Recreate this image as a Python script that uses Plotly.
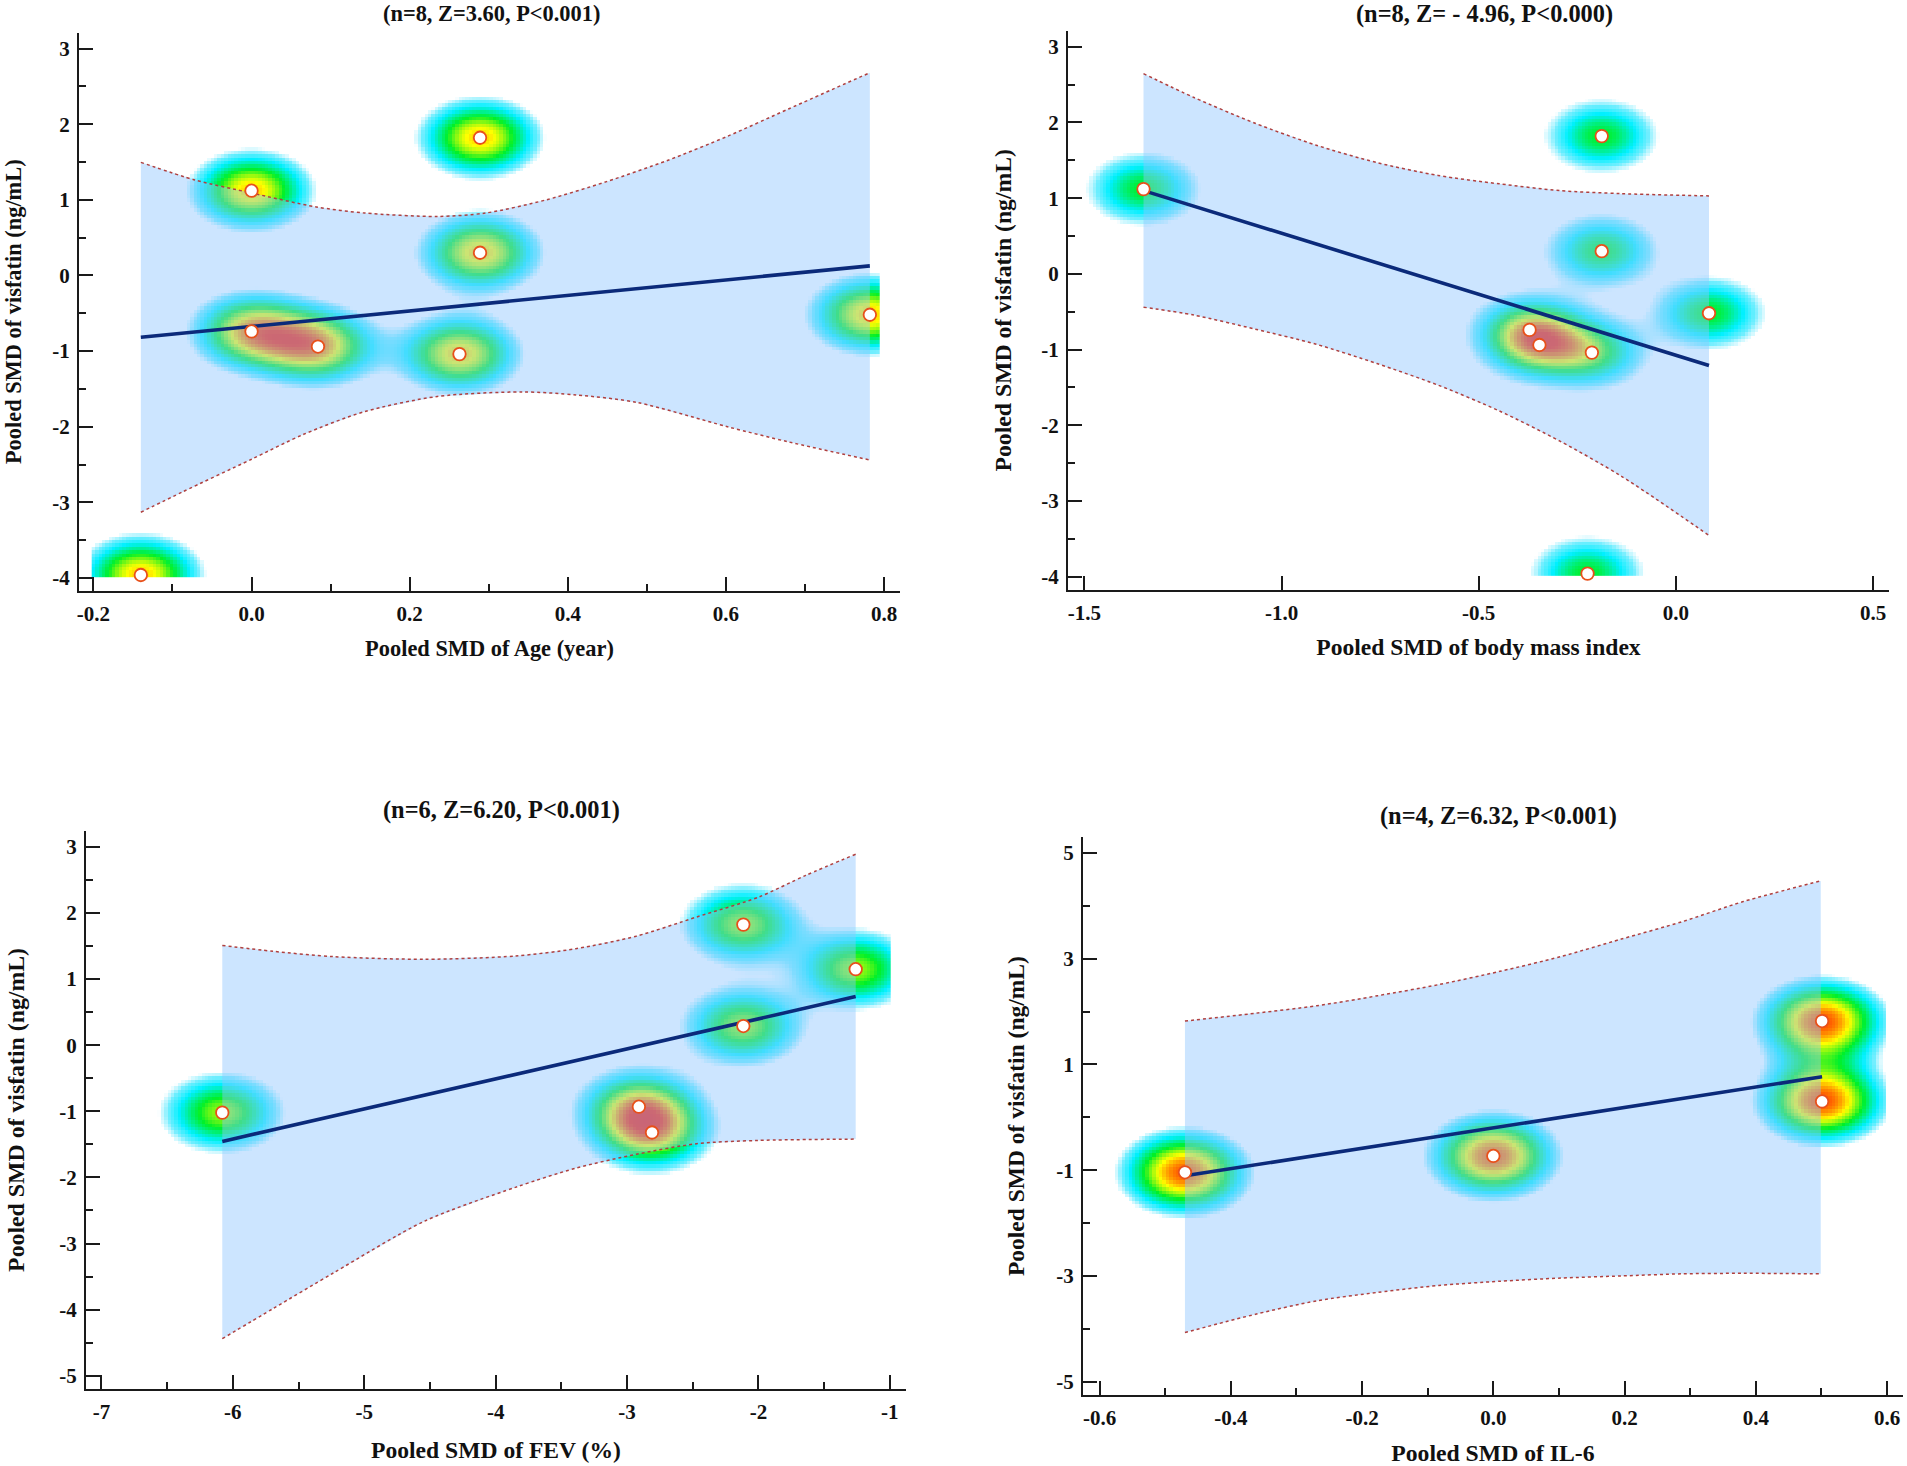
import numpy as np
import plotly.graph_objects as go

# ---------- data ----------
age_x = [-0.14, 0.0, 0.289, 0.289, 0.0, 0.084, 0.263, 0.782]
age_y = [-3.96, 1.12, 1.82, 0.30, -0.74, -0.94, -1.04, -0.52]
age_fit_x = [-0.14, 0.782]
age_fit_y = [-0.818, 0.127]
age_up_x = [-0.14, -0.071, 0.0, 0.082, 0.143, 0.235, 0.296, 0.373, 0.449, 0.526, 0.602, 0.679, 0.782]
age_up_y = [1.495, 1.26, 1.09, 0.905, 0.825, 0.78, 0.825, 1.0, 1.24, 1.52, 1.84, 2.2, 2.68]
age_lo_x = [-0.14, -0.087, 0.0, 0.066, 0.143, 0.235, 0.342, 0.411, 0.488, 0.602, 0.679, 0.782]
age_lo_y = [-3.13, -2.86, -2.43, -2.10, -1.80, -1.60, -1.54, -1.58, -1.68, -2.0, -2.2, -2.44]

bmi_x = [-1.35, -0.188, -0.188, 0.084, -0.371, -0.346, -0.213, -0.224]
bmi_y = [1.12, 1.82, 0.30, -0.52, -0.74, -0.94, -1.04, -3.96]
bmi_fit_x = [-1.35, 0.084]
bmi_fit_y = [1.10, -1.21]
bmi_up_x = [-1.35, -1.222, -1.067, -0.912, -0.758, -0.603, -0.448, -0.294, -0.139, 0.084]
bmi_up_y = [2.645, 2.33, 1.99, 1.70, 1.47, 1.30, 1.19, 1.10, 1.06, 1.03]
bmi_lo_x = [-1.35, -1.222, -1.067, -0.912, -0.758, -0.603, -0.448, -0.294, -0.139, 0.084]
bmi_lo_y = [-0.44, -0.545, -0.73, -0.93, -1.185, -1.47, -1.81, -2.21, -2.67, -3.455]

fev_x = [-6.08, -2.91, -2.81, -2.115, -2.115, -1.26]
fev_y = [-1.02, -0.93, -1.32, 0.29, 1.825, 1.15]
fev_fit_x = [-6.08, -1.26]
fev_fit_y = [-1.455, 0.736]
fev_up_x = [-6.08, -5.69, -5.23, -4.54, -3.85, -3.39, -2.93, -2.47, -2.0, -1.64, -1.26]
fev_up_y = [1.51, 1.42, 1.34, 1.30, 1.35, 1.46, 1.65, 1.94, 2.24, 2.57, 2.89]
fev_lo_x = [-6.08, -5.69, -5.23, -4.54, -3.85, -3.39, -2.93, -2.47, -2.0, -1.26]
fev_lo_y = [-4.44, -3.98, -3.44, -2.66, -2.15, -1.86, -1.65, -1.49, -1.44, -1.42]

il6_x = [-0.47, 0.0, 0.501, 0.501]
il6_y = [-1.04, -0.73, 1.82, 0.30]
il6_fit_x = [-0.47, 0.501]
il6_fit_y = [-1.106, 0.767]
il6_up_x = [-0.47, -0.361, -0.269, -0.176, -0.083, 0.01, 0.103, 0.195, 0.288, 0.381, 0.499]
il6_up_y = [1.82, 1.97, 2.11, 2.30, 2.51, 2.76, 3.04, 3.37, 3.70, 4.08, 4.47]
il6_lo_x = [-0.47, -0.361, -0.269, -0.176, -0.083, 0.01, 0.103, 0.195, 0.288, 0.381, 0.499]
il6_lo_y = [-4.07, -3.72, -3.47, -3.31, -3.18, -3.10, -3.04, -3.0, -2.96, -2.95, -2.96]

age_xticks = [-0.2, 0.0, 0.2, 0.4, 0.6, 0.8]
age_xlabels = ["-0.2", "0.0", "0.2", "0.4", "0.6", "0.8"]
bmi_xticks = [-1.5, -1.0, -0.5, 0.0, 0.5]
bmi_xlabels = ["-1.5", "-1.0", "-0.5", "0.0", "0.5"]
fev_xticks = [-7, -6, -5, -4, -3, -2, -1]
fev_xlabels = ["-7", "-6", "-5", "-4", "-3", "-2", "-1"]
il6_xticks = [-0.6, -0.4, -0.2, 0.0, 0.2, 0.4, 0.6]
il6_xlabels = ["-0.6", "-0.4", "-0.2", "0.0", "0.2", "0.4", "0.6"]
y7_ticks = [-4, -3, -2, -1, 0, 1, 2, 3]
y7_labels = ["-4", "-3", "-2", "-1", "0", "1", "2", "3"]
y8_ticks = [-5, -4, -3, -2, -1, 0, 1, 2, 3]
y8_labels = ["-5", "-4", "-3", "-2", "-1", "0", "1", "2", "3"]
y5_ticks = [-5, -3, -1, 1, 3, 5]
y5_labels = ["-5", "-3", "-1", "1", "3", "5"]

# ---------- layout ----------
W, H = 1907, 1466
FONT = "Liberation Serif"
panels = [
    dict(px=age_x, py=age_y, fx=age_fit_x, fy=age_fit_y, ux=age_up_x, uy=age_up_y, lx=age_lo_x, ly=age_lo_y,
         xt=age_xticks, xl=age_xlabels, yt=y7_ticks, yl=y7_labels, xminor=0.1, yminor=0.5,
         xtitle="Pooled SMD of Age (year)", title="(n=8, Z=3.60, P<0.001)", tc=(490, 14),
         box=(77, 899, 33, 593), xcal=(91.5, 883), ycal=(48.7, 580.4),
         peak=0.70, rad=(66, 43), clipx=(-0.2, 0.793), clipy=(-3.97, 3.0),
         sz=(22.4, 22.4, 22.4), xso=16, yso=24),
    dict(px=bmi_x, py=bmi_y, fx=bmi_fit_x, fy=bmi_fit_y, ux=bmi_up_x, uy=bmi_up_y, lx=bmi_lo_x, ly=bmi_lo_y,
         xt=bmi_xticks, xl=bmi_xlabels, yt=y7_ticks, yl=y7_labels, xminor=None, yminor=0.5,
         xtitle="Pooled SMD of body mass index", title="(n=8, Z= - 4.96, P<0.000)", tc=(1484, 14),
         box=(1067, 1889, 31, 592), xcal=(1083.5, 1873), ycal=(47, 579),
         peak=0.42, rad=(58, 38), clipx=(-1.5, 0.5), clipy=(-3.97, 3.0),
         sz=(24.4, 23.6, 23.7), xso=15, yso=23),
    dict(px=fev_x, py=fev_y, fx=fev_fit_x, fy=fev_fit_y, ux=fev_up_x, uy=fev_up_y, lx=fev_lo_x, ly=fev_lo_y,
         xt=fev_xticks, xl=fev_xlabels, yt=y8_ticks, yl=y8_labels, xminor=0.5, yminor=0.5,
         xtitle="Pooled SMD of FEV (%)", title="(n=6, Z=6.20, P<0.001)", tc=(500, 813.4),
         box=(84, 905, 834.4, 1394.6), xcal=(99.5, 888.8), ycal=(850.4, 1381.4),
         peak=0.55, rad=(64, 42), clipx=(-7, -1.0), clipy=(-5, 3.0),
         sz=(24.4, 23.6, 23.8), xso=18, yso=28),
    dict(px=il6_x, py=il6_y, fx=il6_fit_x, fy=il6_fit_y, ux=il6_up_x, uy=il6_up_y, lx=il6_lo_x, ly=il6_lo_y,
         xt=il6_xticks, xl=il6_xlabels, yt=y5_ticks, yl=y5_labels, xminor=0.1, yminor=1,
         xtitle="Pooled SMD of IL-6", title="(n=4, Z=6.32, P<0.001)", tc=(1498, 819.4),
         box=(1082, 1903, 840.4, 1401), xcal=(1098.8, 1887), ycal=(856.4, 1387.4),
         peak=0.85, rad=(71, 47), clipx=(-0.6, 0.6), clipy=(-5, 5),
         sz=(24.4, 23.7, 23.5), xso=19, yso=25),
]

density_scale = [
    [0.0, "rgba(255,255,255,0)"],
    [0.015, "rgba(190,245,255,0.5)"],
    [0.08, "rgba(90,235,255,0.85)"],
    [0.20, "rgb(0,240,255)"],
    [0.42, "rgb(0,240,40)"],
    [0.62, "rgb(255,255,0)"],
    [0.82, "rgb(255,30,0)"],
    [1.0, "rgb(230,0,30)"],
]
BAND = "rgba(142,197,255,0.45)"
AX = "#1a1a1a"
KERNEL_A = 1.5

fig = go.Figure()
layout = {}
annots = []
for i, p in enumerate(panels):
    sfx = "" if i == 0 else str(i + 1)
    xref, yref = "x" + sfx, "y" + sfx
    l, r, t, b = p["box"]
    xa, xb = p["xcal"]
    ya, yb = p["ycal"]
    xv0, xv1 = p["xt"][0], p["xt"][-1]
    yv0, yv1 = p["yt"][-1], p["yt"][0]
    sx = (xb - xa) / (xv1 - xv0)
    sy = (yb - ya) / (yv0 - yv1)
    x_range = [xv0 + (l - xa) / sx, xv0 + (r - xa) / sx]
    y_range = [yv1 - (b - yb) / sy, yv1 + (yb - t) / sy]

    # density glow derived from the points themselves
    gx = np.arange(p["clipx"][0], p["clipx"][1], 3.4 / sx)
    gy = np.arange(p["clipy"][0], p["clipy"][1], 3.4 / sy)
    XX, YY = np.meshgrid(gx, gy)
    rx, ry = p["rad"][0] / sx, p["rad"][1] / sy
    S = np.zeros_like(XX)
    for a, c in zip(p["px"], p["py"]):
        S += np.exp(-KERNEL_A * (((XX - a) / rx) ** 2 + ((YY - c) / ry) ** 2))
    e = np.exp(-KERNEL_A)
    Z = p["peak"] * np.clip((S - e) / (1 - e), 0, None)
    Z = Z / (1 + Z ** 4) ** 0.25
    Z[Z <= 0] = np.nan
    fig.add_trace(go.Heatmap(x=gx, y=gy, z=Z, colorscale=density_scale, zmin=0, zmax=1,
                             showscale=False, hoverinfo="skip", xaxis=xref, yaxis=yref))
    # band
    fig.add_trace(go.Scatter(x=p["ux"] + p["lx"][::-1], y=p["uy"] + p["ly"][::-1], mode="lines",
                             fill="toself", fillcolor=BAND, line=dict(width=0), hoverinfo="skip",
                             showlegend=False, xaxis=xref, yaxis=yref))
    for xs, ys in ((p["ux"], p["uy"]), (p["lx"], p["ly"])):
        fig.add_trace(go.Scatter(x=xs, y=ys, mode="lines",
                                 line=dict(color="#B0403F", width=1.5, dash="dot", shape="spline", smoothing=0.8),
                                 showlegend=False, xaxis=xref, yaxis=yref))
    fig.add_trace(go.Scatter(x=p["fx"], y=p["fy"], mode="lines", line=dict(color="#0B2A7A", width=3.6),
                             showlegend=False, xaxis=xref, yaxis=yref))
    fig.add_trace(go.Scatter(x=p["px"], y=p["py"], mode="markers", cliponaxis=False,
                             marker=dict(size=12.5, color="white", line=dict(color="#E8501A", width=1.8)),
                             showlegend=False, xaxis=xref, yaxis=yref))

    common = dict(showline=True, linecolor=AX, linewidth=2, ticks="inside", ticklen=14, tickwidth=1.6,
                  tickcolor=AX, showgrid=False, zeroline=False, tickmode="array", ticklabelstandoff=3,
                  tickfont=dict(family=FONT, size=21, color="#111", weight=700))
    xminor = dict(ticks="inside", ticklen=7, tickwidth=1.6, tickcolor=AX, tick0=xv0, dtick=p["xminor"], showgrid=False) \
        if p["xminor"] else dict(ticks="")
    ts, xs_, ys_ = p["sz"]
    layout["xaxis" + sfx] = dict(common, domain=[l / W, min(r / W, 1)], range=x_range, anchor=yref,
                                 tickvals=p["xt"], ticktext=p["xl"], minor=xminor,
                                 title=dict(text=p["xtitle"], standoff=p["xso"],
                                            font=dict(family=FONT, size=xs_, color="#111", weight=700)))
    layout["yaxis" + sfx] = dict(common, domain=[1 - b / H, 1 - t / H], range=y_range, anchor=xref,
                                 tickvals=p["yt"], ticktext=p["yl"],
                                 minor=dict(ticks="inside", ticklen=7, tickwidth=1.6, tickcolor=AX,
                                            tick0=p["yt"][0], dtick=p["yminor"], showgrid=False),
                                 title=dict(text="Pooled SMD of visfatin (ng/mL)", standoff=p["yso"],
                                            font=dict(family=FONT, size=ys_, color="#111", weight=700)))
    annots.append(dict(text=p["title"], x=p["tc"][0] / W, y=1 - p["tc"][1] / H, xref="paper", yref="paper",
                       xanchor="center", yanchor="middle", showarrow=False,
                       font=dict(family=FONT, size=ts, color="#111", weight=700)))

fig.update_layout(width=W, height=H, margin=dict(l=0, r=0, t=0, b=0), paper_bgcolor="white",
                  plot_bgcolor="white", showlegend=False, annotations=annots, **layout)
fig.write_html("out.html", config={"displayModeBar": False},
               post_script="document.body.style.margin='0';document.body.style.overflow='hidden';")
